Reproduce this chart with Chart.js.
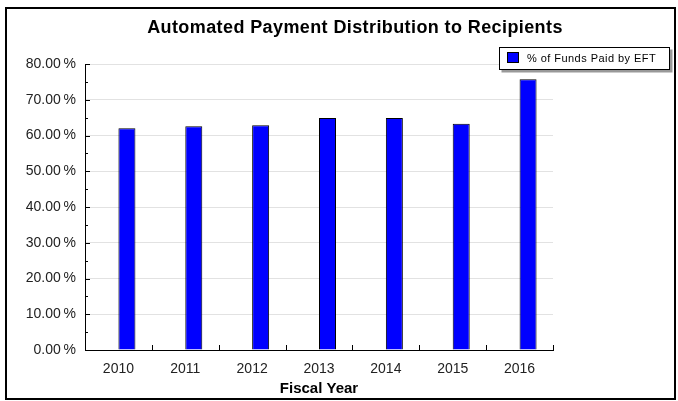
<!DOCTYPE html>
<html><head><meta charset="utf-8">
<script src="https://cdn.jsdelivr.net/npm/chart.js@4/dist/chart.umd.min.js"></script>
<style>html,body{margin:0;padding:0;background:#fff;}#wrap{width:678px;height:401px;}</style>
</head><body><div id="wrap"><canvas id="c" width="678" height="401"></canvas></div>
<script>
const chartTitle = 'Automated Payment Distribution to Recipients';
const xAxisTitle = 'Fiscal Year';
const categories = ['2010', '2011', '2012', '2013', '2014', '2015', '2016'];
const seriesLabel = '% of Funds Paid by EFT';
const seriesValues = [62.0, 62.6, 62.9, 64.9, 64.9, 63.3, 75.7];
const yTickValues = [0, 10, 20, 30, 40, 50, 60, 70, 80];
const yMinorTickValues = [5, 15, 25, 35, 45, 55, 65, 75];

const FONT = "'Liberation Sans', Arial, sans-serif";

const decor = {
  id: 'decor',
  afterDraw(chart) {
    const ctx = chart.ctx, a = chart.chartArea;
    const xs = chart.scales.x, ys = chart.scales.y;
    ctx.save();
    // outer frame
    ctx.strokeStyle = '#000'; ctx.lineWidth = 2;
    ctx.strokeRect(6, 8, 669, 391);
    // inner ticks
    ctx.lineWidth = 1; ctx.strokeStyle = '#000';
    ctx.beginPath();
    yTickValues.forEach(v => { const y = Math.round(ys.getPixelForValue(v)) + 0.5; ctx.moveTo(a.left, y); ctx.lineTo(a.left + 5, y); });
    yMinorTickValues.forEach(v => { const y = Math.round(ys.getPixelForValue(v)) + 0.5; ctx.moveTo(a.left, y); ctx.lineTo(a.left + 3, y); });
    for (let i = 0; i < categories.length; i++) {
      const x = Math.round(xs.getPixelForValue(i + 0.5)) + 0.5;
      ctx.moveTo(x, a.bottom); ctx.lineTo(x, a.bottom - 5);
    }
    ctx.stroke();
    // title
    ctx.fillStyle = '#000';
    ctx.font = 'bold 18px ' + FONT;
    ctx.letterSpacing = '0.4px';
    ctx.textAlign = 'center'; ctx.textBaseline = 'middle';
    ctx.fillText(chartTitle, 355, 28);
    // legend
    const lx = 499.5, ly = 47.5, lw = 170, lh = 22;
    ctx.fillStyle = '#999';
    ctx.fillRect(lx + 2, ly + 2, lw + 1, lh + 1);
    ctx.fillStyle = '#fff';
    ctx.fillRect(lx, ly, lw, lh);
    ctx.strokeStyle = '#000';
    ctx.strokeRect(lx, ly, lw, lh);
    const ds = chart.data.datasets[1];
    ctx.fillStyle = ds.backgroundColor;
    ctx.fillRect(507.5, 52.5, 11, 10);
    ctx.strokeRect(507.5, 52.5, 11, 10);
    ctx.fillStyle = '#000';
    ctx.font = '11px ' + FONT;
    ctx.letterSpacing = '0.45px';
    ctx.textAlign = 'left';
    ctx.fillText(ds.label, 527, 58.5);
    ctx.restore();
  }
};

new Chart(document.getElementById('c'), {
  type: 'bar',
  data: {
    labels: categories,
    datasets: [
      { label: '', data: categories.map(() => null) },
      { label: seriesLabel, data: seriesValues, backgroundColor: '#0000ff', borderColor: '#000', borderWidth: 1, borderSkipped: 'bottom' }
    ]
  },
  options: {
    responsive: false,
    animation: false,
    devicePixelRatio: 1,
    datasets: { bar: { categoryPercentage: 0.5085, barPercentage: 1 } },
    layout: { padding: { left: 0, right: 125, top: 64, bottom: 0 } },
    plugins: { legend: { display: false }, title: { display: false }, tooltip: { enabled: false } },
    scales: {
      x: {
        grid: { color: 'transparent', drawTicks: false },
        border: { color: '#000', width: 1 },
        ticks: { color: '#222', font: { family: FONT, size: 14 }, padding: 11, maxRotation: 0 },
        title: { display: true, text: xAxisTitle, color: '#000', font: { family: FONT, size: 15, weight: 'bold' }, padding: { top: 0, bottom: 3 } },
        afterFit(s) { s.height = 51; }
      },
      y: {
        min: 0, max: 80,
        afterBuildTicks(s) { s.ticks = yTickValues.map(v => ({ value: v })); },
        grid: { color: '#e2e2e2', drawTicks: false },
        border: { color: '#000', width: 1 },
        ticks: { color: '#222', font: { family: FONT, size: 14 }, padding: 9, callback: v => v.toFixed(2) + '\u2009%' },
        afterFit(s) { s.width = 85; }
      }
    }
  },
  plugins: [decor]
});
</script></body></html>
